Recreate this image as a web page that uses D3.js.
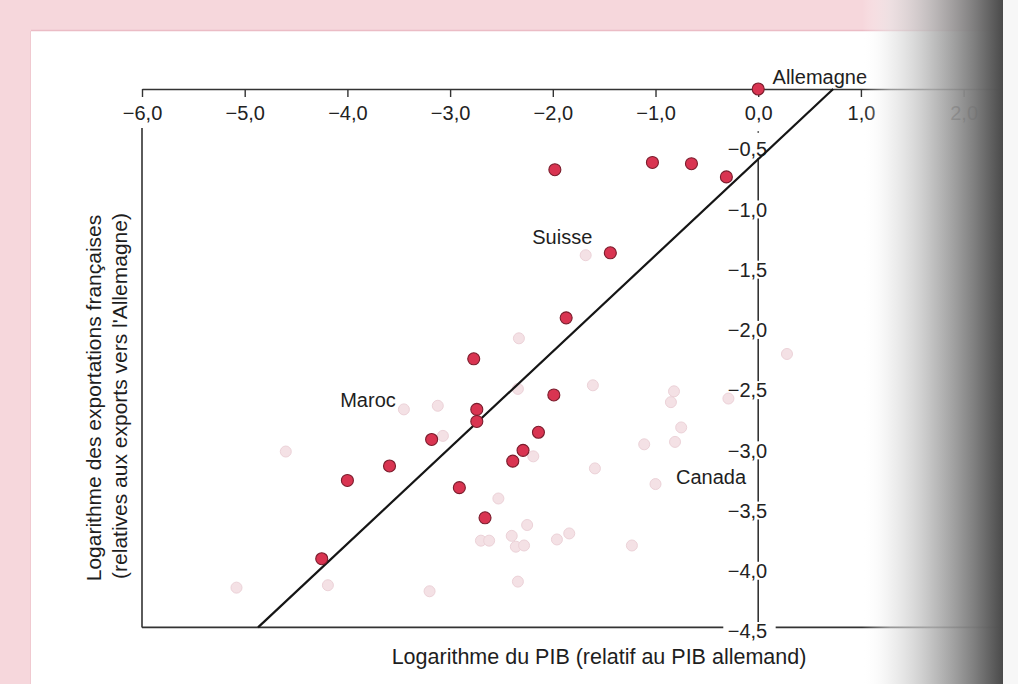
<!DOCTYPE html>
<html><head><meta charset="utf-8">
<script src="https://cdn.jsdelivr.net/npm/d3@7"></script>
<style>
html,body{margin:0;padding:0;background:#fff;}
svg{display:block;font-family:"Liberation Sans",Arial,Helvetica,sans-serif;}
</style></head>
<body>
<svg id="chart" width="1018" height="684"></svg>
<script>
// ---- data ----
const countries = ["Allemagne","","","","","Suisse","","","","Maroc","","","","","","","","","",""];
const xValues = [0.00,-1.98,-1.03,-0.65,-0.31,-1.44,-1.87,-2.77,-1.99,-2.74,-2.74,-3.18,-2.14,-2.29,-2.39,-3.59,-4.00,-2.91,-2.66,-4.25];
const yValues = [0.00,-0.67,-0.61,-0.62,-0.73,-1.36,-1.90,-2.24,-2.54,-2.66,-2.76,-2.91,-2.85,-3.00,-3.09,-3.13,-3.25,-3.31,-3.56,-3.90];
// faint show-through points from the reverse page
const faintX = [-1.68,-2.33,-2.34,-1.61,-3.45,-3.12,-3.07,-4.60,-2.19,-1.59,-2.53,-2.25,-2.40,-2.70,-2.62,-2.36,-2.28,-1.96,-1.84,-1.23,-2.34,-1.11,-1.00,-5.08,-4.19,-3.20,-0.82,-0.85,-0.75,-0.81,-0.29,0.28];
const faintY = [-1.38,-2.07,-2.49,-2.46,-2.66,-2.63,-2.88,-3.01,-3.05,-3.15,-3.40,-3.62,-3.71,-3.75,-3.75,-3.80,-3.79,-3.74,-3.69,-3.79,-4.09,-2.95,-3.28,-4.14,-4.12,-4.17,-2.51,-2.60,-2.81,-2.93,-2.57,-2.20];
// fitted line end points
const fitX = [-4.87, 0.73];
const fitY = [-4.47, 0.00];
const xTicks = [-6,-5,-4,-3,-2,-1,0,1,2];
const yTicks = [-0.5,-1.0,-1.5,-2.0,-2.5,-3.0,-3.5,-4.0,-4.5];
const annotations = [
  {name:"Allemagne", x:0.14, y:0.10},
  {name:"Suisse", x:-2.20, y:-1.23},
  {name:"Maroc", x:-4.07, y:-2.58},
  {name:"Canada", x:-0.80, y:-3.22}
];
const xTitle = "Logarithme du PIB (relatif au PIB allemand)";
const yTitle1 = "Logarithme des exportations françaises";
const yTitle2 = "(relatives aux exports vers l'Allemagne)";

// ---- drawing ----
const svg = d3.select("#chart");
const W = 1018, H = 684;
const x = d3.scaleLinear().domain([-6, 2.4]).range([142, 1004.7]);
const y = d3.scaleLinear().domain([0, -4.5]).range([89, 631]);
const fmt = v => d3.format(".1f")(v).replace(".", ",").replace("-", "\u2212");

// page background + pink frame
svg.append("rect").attr("width", W).attr("height", H).attr("fill", "#fff");
svg.append("rect").attr("x",0).attr("y",0).attr("width",W).attr("height",31).attr("fill","#f6d7dc");
svg.append("rect").attr("x",0).attr("y",0).attr("width",31).attr("height",H).attr("fill","#f6d7dc");
svg.append("line").attr("x1",31).attr("x2",W).attr("y1",30.5).attr("y2",30.5).attr("stroke","#ebbcc5").attr("stroke-width",1.5);
svg.append("line").attr("x1",30.5).attr("x2",30.5).attr("y1",31).attr("y2",H).attr("stroke","#f0c9d0").attr("stroke-width",1);

const g = svg.append("g");
const axisColor = "#333";

// top axis
const xAxis = d3.axisBottom(x).tickValues(xTicks).tickSize(8).tickSizeOuter(0).tickPadding(9).tickFormat(fmt);
const xg = g.append("g").attr("transform", `translate(0,${y(0)})`).call(xAxis);
xg.select(".domain").attr("stroke", axisColor).attr("stroke-width", 1.6);
xg.selectAll(".tick line").attr("stroke", axisColor).attr("stroke-width", 1.4);
xg.selectAll(".tick text").attr("font-size", 20).attr("fill", "#222").attr("font-family", "Liberation Sans, Arial, sans-serif");

// left frame line (below -6,0 label)
g.append("line").attr("x1", x(-6)).attr("x2", x(-6)).attr("y1", 128).attr("y2", y(-4.47))
  .attr("stroke", axisColor).attr("stroke-width", 1.6);
// bottom frame line with gap for -4,5 label
g.append("line").attr("x1", x(-6)).attr("x2", x(-0.34)).attr("y1", y(-4.47)).attr("y2", y(-4.47))
  .attr("stroke", axisColor).attr("stroke-width", 1.6);
g.append("line").attr("x1", x(0.17)).attr("x2", x(2.4)).attr("y1", y(-4.47)).attr("y2", y(-4.47))
  .attr("stroke", axisColor).attr("stroke-width", 1.6);

// vertical axis at x=0, segments between labels
for (let i = 0; i < yTicks.length - 1; i++) {
  g.append("line").attr("x1", x(0)).attr("x2", x(0))
    .attr("y1", y(yTicks[i]) + 9).attr("y2", y(yTicks[i+1]) - 9)
    .attr("stroke", axisColor).attr("stroke-width", 1.6);
}
g.append("circle").attr("cx", x(0)).attr("cy", 132).attr("r", 0.9).attr("fill", "#555");
g.selectAll("text.ylab").data(yTicks).join("text").attr("class","ylab")
  .attr("x", x(0) + 9).attr("y", d => y(d)).attr("dy", "0.36em")
  .attr("text-anchor", "end").attr("font-size", 20).attr("fill", "#222")
  .text(fmt);

// faint show-through points
g.selectAll("circle.faint").data(faintX.map((v,i)=>[v, faintY[i]])).join("circle").attr("class","faint")
  .attr("cx", d => x(d[0])).attr("cy", d => y(d[1])).attr("r", 5.5)
  .attr("fill", "#f4e1e5").attr("stroke", "#ecd2d8").attr("stroke-width", 1);

// fitted line
g.append("line").attr("x1", x(fitX[0])).attr("y1", y(fitY[0])).attr("x2", x(fitX[1])).attr("y2", y(fitY[1]))
  .attr("stroke", "#151515").attr("stroke-width", 2.2);

// data points
g.selectAll("circle.pt").data(xValues.map((v,i)=>[v, yValues[i]])).join("circle").attr("class","pt")
  .attr("cx", d => x(d[0])).attr("cy", d => y(d[1])).attr("r", 6)
  .attr("fill", "#d93451").attr("stroke", "#7a1c2c").attr("stroke-width", 1.1);

// annotations
g.selectAll("text.ann").data(annotations).join("text").attr("class","ann")
  .attr("x", d => x(d.x)).attr("y", d => y(d.y)).attr("dy","0.36em")
  .attr("font-size", 20).attr("fill", "#1e1e1e").text(d => d.name);

// axis titles
g.append("text").attr("x", 599).attr("y", 664).attr("text-anchor","middle")
  .attr("font-size", 21.5).attr("fill","#1e1e1e").text(xTitle);
g.append("text").attr("transform","translate(101,398) rotate(-90)").attr("text-anchor","middle")
  .attr("font-size", 21).attr("fill","#1e1e1e").text(yTitle1);
g.append("text").attr("transform","translate(127,396) rotate(-90)").attr("text-anchor","middle")
  .attr("font-size", 21).attr("fill","#1e1e1e").text(yTitle2);

// page curvature shadow on right
const defs = svg.append("defs");
const grad = defs.append("linearGradient").attr("id","shade").attr("gradientUnits","userSpaceOnUse")
  .attr("x1", 862).attr("x2", 1003).attr("y1", 0).attr("y2", 0);
[[0,"#ffffff",0],[0.2,"#e6e6e6",0.55],[0.5,"#b5b5b5",0.85],[0.8,"#7a7a7a",0.97],[1,"#4a4a4a",1]]
  .forEach(s => grad.append("stop").attr("offset", s[0]).attr("stop-color", s[1]).attr("stop-opacity", s[2]));
svg.append("rect").attr("x", 862).attr("y", 0).attr("width", 141).attr("height", H).attr("fill", "url(#shade)");
svg.append("rect").attr("x", 1003).attr("y", 0).attr("width", 15).attr("height", H).attr("fill", "#f7f7f7");
</script>
</body></html>
